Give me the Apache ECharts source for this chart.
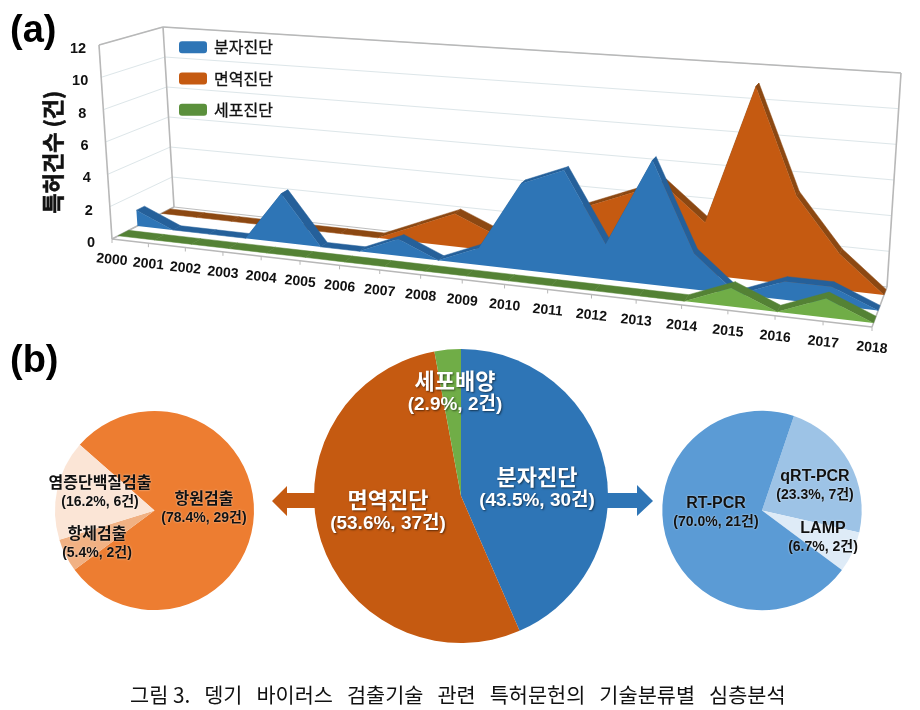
<!DOCTYPE html>
<html>
<head>
<meta charset="utf-8">
<style>
  html, body { margin: 0; background: #fff; }
  #chart { width: 920px; height: 710px; }
</style>
<script src="https://cdn.jsdelivr.net/npm/echarts@6/dist/echarts.min.js"></script>
</head>
<body>
<div id="chart"></div>
<script>
const years = ['2000','2001','2002','2003','2004','2005','2006','2007','2008','2009','2010','2011','2012','2013','2014','2015','2016','2017','2018'];
const yTicks = [0, 2, 4, 6, 8, 10, 12];
const molecular = [1,0,0,0,3,0,0,1,0,1,5,6,2,7,2,0,1,1,0];
const immune = [0,0,0,0,0,0,0,1,2,1,0,3,4,5,3,11,5,2,0];
const cell = [0,0,0,0,0,0,0,0,0,0,0,0,0,0,0,1,0,1,0];

const mainPie = [
  { name: '분자진단', value: 30 },
  { name: '면역진단', value: 37 },
  { name: '세포배양', value: 2 }
];
const immunePie = [
  { name: '항원검출', value: 29 },
  { name: '항체검출', value: 2 },
  { name: '염증단백질검출', value: 6 }
];
const molecularPie = [
  { name: 'qRT-PCR', value: 7 },
  { name: 'LAMP', value: 2 },
  { name: 'RT-PCR', value: 21 }
];

const FONT = '"Liberation Sans", "Noto Sans CJK KR", sans-serif';
const KR = '"Noto Sans CJK KR", sans-serif';

// corners of the 3d box as seen in the picture
const box = {
  fl: [112, 239], fr: [872, 327], bl: [174, 207], br: [887, 287],
  flt: [99, 45], frt: [889, 97], blt: [163, 27], brt: [901, 73]
};
const plot = { left: 112, top: 45, width: 760, height: 194 };

function mix(a, b, t) {
  return [a[0] + (b[0] - a[0]) * t, a[1] + (b[1] - a[1]) * t];
}

// u along the years, d front to back, h up; right side is nearer to the viewer
function project(u, d, h) {
  const w = 1.17;
  const uu = u / (w + (1 - w) * u);
  const floor = mix(mix(box.fl, box.fr, uu), mix(box.bl, box.br, uu), d);
  const top = mix(mix(box.flt, box.frt, uu), mix(box.blt, box.brt, uu), d);
  return mix(floor, top, h);
}

// data value -> pixel: goes through the hidden cartesian axes, then the box
function toBox(api, x, v, d) {
  const p = api.coord([x, v]);
  const u = (p[0] - plot.left) / plot.width;
  const h = (plot.top + plot.height - p[1]) / plot.height;
  return project(u, d, h);
}

function rows(values) {
  return values.map((v, i) => [i, v, i + 1 < values.length ? values[i + 1] : v]);
}

function ribbonSeries(name, values, dFront, dBack, color) {
  return {
    type: 'custom', name: name, silent: true, data: rows(values),
    renderItem: (params, api) => {
      const i = api.value(0);
      if (i >= values.length - 1) return null;
      const a = api.value(1), b = api.value(2);
      return {
        type: 'polygon',
        shape: { points: [toBox(api, i, a, dFront), toBox(api, i + 1, b, dFront), toBox(api, i + 1, b, dBack), toBox(api, i, a, dBack)] },
        style: { fill: color, stroke: color, lineWidth: 0.5 }
      };
    }
  };
}

// the front face is one polygon, so no seams between the years
function faceSeries(name, values, dFront, color) {
  return {
    type: 'custom', name: name, silent: true, data: rows(values),
    itemStyle: { color: color },
    renderItem: (params, api) => {
      if (api.value(0) !== 0) return null;
      const points = [toBox(api, 0, 0, dFront)];
      values.forEach((v, i) => points.push(toBox(api, i, v, dFront)));
      points.push(toBox(api, values.length - 1, 0, dFront));
      return { type: 'polygon', shape: { points: points }, style: { fill: color } };
    }
  };
}

function seg(a, b, color, width) {
  return {
    type: 'line',
    shape: { x1: a[0], y1: a[1], x2: b[0], y2: b[1] },
    style: { stroke: color, lineWidth: width }
  };
}

const gridSeries = {
  type: 'custom', silent: true, data: yTicks.map(v => [0, v]),
  renderItem: (params, api) => {
    const v = api.value(1);
    const last = years.length - 1;
    const c = v === 0 ? '#bdbdbd' : '#dde6e9';
    return {
      type: 'group',
      children: [
        seg(toBox(api, 0, v, 0), toBox(api, 0, v, 1), c, 1),
        seg(toBox(api, 0, v, 1), toBox(api, last, v, 1), c, 1),
        {
          type: 'text',
          style: {
            text: String(v), fontFamily: FONT, fontSize: 14.5, fontWeight: 'bold', fill: '#111',
            x: toBox(api, 0, v, 0)[0] - 21, y: toBox(api, 0, v, 0)[1] + 4,
            align: 'center', verticalAlign: 'middle'
          }
        }
      ]
    };
  }
};

const frameSeries = {
  type: 'custom', silent: true, data: [[0, 0]],
  renderItem: (params, api) => {
    const last = years.length - 1, c = '#b8b8b8';
    const edges = [
      [[0, 0, 0], [0, 12, 0]],
      [[0, 0, 1], [0, 12, 1]],
      [[last, 0, 1], [last, 12, 1]],
      [[0, 12, 0], [0, 12, 1]],
      [[0, 12, 1], [last, 12, 1]],
      [[0, 0, 0], [last, 0, 0]],
      [[last, 0, 0], [last, 0, 1]],
      [[0, 0, 0], [0, 0, 1]]
    ];
    return {
      type: 'group',
      children: edges.map(e => seg(toBox(api, e[0][0], e[0][1], e[0][2]), toBox(api, e[1][0], e[1][1], e[1][2]), c, 1.6))
    };
  }
};

const yearSeries = {
  type: 'custom', silent: true, data: years.map((y, i) => [i, 0]),
  renderItem: (params, api) => {
    const i = api.value(0);
    const p = toBox(api, i, 0, 0);
    return {
      type: 'group',
      children: [
        seg(p, [p[0], p[1] + 4], '#b8b8b8', 1),
        {
          type: 'text',
          x: p[0], y: p[1] + 21, rotation: -0.1,
          style: {
            text: years[i], fontFamily: FONT, fontSize: 14, fontWeight: 'bold', fill: '#111',
            x: 0, y: 0, align: 'center', verticalAlign: 'middle'
          }
        }
      ]
    };
  }
};

function pieLabel(params) {
  const pct = params.percent.toFixed(1);
  return '{n|' + params.name + '}\n{p|(' + pct + '%, ' + params.value + '건)}';
}

function pieSeries(data, center, radius, startAngle, colors, spots, light) {
  const big = radius > 120;
  const txt = light ? '#fff' : '#111';
  const shadow = {
    textShadowColor: light ? 'rgba(0,0,0,0.55)' : 'rgba(255,255,255,0.7)',
    textShadowBlur: 2,
    textShadowOffsetX: light ? 1 : 0,
    textShadowOffsetY: light ? 1 : 0
  };
  const label = {
    show: true, position: 'inside', formatter: pieLabel,
    rich: {
      n: Object.assign({ fontFamily: big ? KR : FONT, fontWeight: 'bold', fontSize: big ? 22 : 16, lineHeight: big ? 24 : 18, color: txt }, shadow),
      p: Object.assign({ fontFamily: FONT, fontWeight: 'bold', fontSize: big ? 19 : 14, lineHeight: big ? 24 : 18, color: txt }, shadow)
    }
  };
  return {
    type: 'pie', silent: true, center: center, radius: radius, startAngle: startAngle,
    clockwise: true, avoidLabelOverlap: false, percentPrecision: 4,
    labelLine: { show: false }, label: label,
    labelLayout: (p) => ({ x: spots[p.dataIndex][0], y: spots[p.dataIndex][1], align: 'center', verticalAlign: 'middle' }),
    data: data.map((d, i) => ({ name: d.name, value: d.value, itemStyle: { color: colors[i] } }))
  };
}

const chart = echarts.init(document.getElementById('chart'), null, { renderer: 'canvas' });

chart.setOption({
  animation: false,
  backgroundColor: '#fff',
  textStyle: { fontFamily: FONT },
  title: [
    { text: '(a)', left: 5, top: 8, textStyle: { fontFamily: FONT, fontSize: 38, fontWeight: 'bold', color: '#000' } },
    { text: '(b)', left: 5, top: 338, textStyle: { fontFamily: FONT, fontSize: 38, fontWeight: 'bold', color: '#000' } },
    {
      text: '그림 3.   뎅기   바이러스   검출기술   관련   특허문헌의   기술분류별   심층분석',
      left: 125, top: 680,
      textStyle: { fontFamily: KR, fontSize: 20.8, fontWeight: 'normal', color: '#111' }
    }
  ],
  legend: {
    orient: 'vertical', left: 174, top: 34, itemWidth: 28, itemHeight: 12, itemGap: 15,
    icon: 'roundRect', selectedMode: false,
    data: [
      { name: '분자진단', itemStyle: { color: '#2e75b6' } },
      { name: '면역진단', itemStyle: { color: '#c55a11' } },
      { name: '세포진단', itemStyle: { color: '#5b903c' } }
    ],
    textStyle: { fontFamily: KR, fontSize: 16, color: '#111', textBorderColor: '#111', textBorderWidth: 0.3, padding: [0, 0, 0, 2] }
  },
  grid: { left: plot.left, top: plot.top, width: plot.width, height: plot.height },
  xAxis: { type: 'value', min: 0, max: 18, show: false },
  yAxis: { type: 'value', min: 0, max: 12, show: false },
  graphic: [
    {
      type: 'text', x: 53, y: 152, rotation: Math.PI / 2,
      style: { text: '특허건수 (건)', fontFamily: KR, fontSize: 22, fontWeight: 'bold', fill: '#111', stroke: '#111', lineWidth: 0.6, align: 'center', verticalAlign: 'middle' }
    },
    {
      type: 'polygon',
      shape: { points: [[272, 501], [287, 486], [287, 493], [320, 493], [320, 508], [287, 508], [287, 516]] },
      style: { fill: '#c55a11' }
    },
    {
      type: 'polygon',
      shape: { points: [[600, 493], [637, 493], [637, 485], [653, 501], [637, 516], [637, 508], [600, 508]] },
      style: { fill: '#2e75b6' }
    }
  ],
  series: [
    gridSeries,
    frameSeries,
    ribbonSeries('면역진단 윗면', immune, 0.8, 0.94, '#8c4812'),
    faceSeries('면역진단', immune, 0.8, '#c55a11'),
    ribbonSeries('분자진단 윗면', molecular, 0.41, 0.54, '#25609a'),
    faceSeries('분자진단', molecular, 0.41, '#2e75b6'),
    ribbonSeries('세포진단 윗면', cell, 0.1, 0.27, '#548235'),
    faceSeries('세포진단', cell, 0.1, '#70ad47'),
    yearSeries,
    pieSeries(immunePie, [154.5, 510.5], 99.5, 138.7, ['#ed7d31', '#f1b183', '#fbe5d6'], [[204, 509], [97, 544], [100, 493]], false),
    pieSeries(mainPie, [461, 496], 147, 90, ['#2e75b6', '#c55a11', '#70ad47'], [[537, 489], [388, 512], [455, 393]], true),
    pieSeries(molecularPie, [762, 510.5], 99.7, 71.3, ['#9dc3e6', '#deebf7', '#5b9bd5'], [[815, 486], [823, 538], [716, 513]], false)
  ]
});
</script>
</body>
</html>
